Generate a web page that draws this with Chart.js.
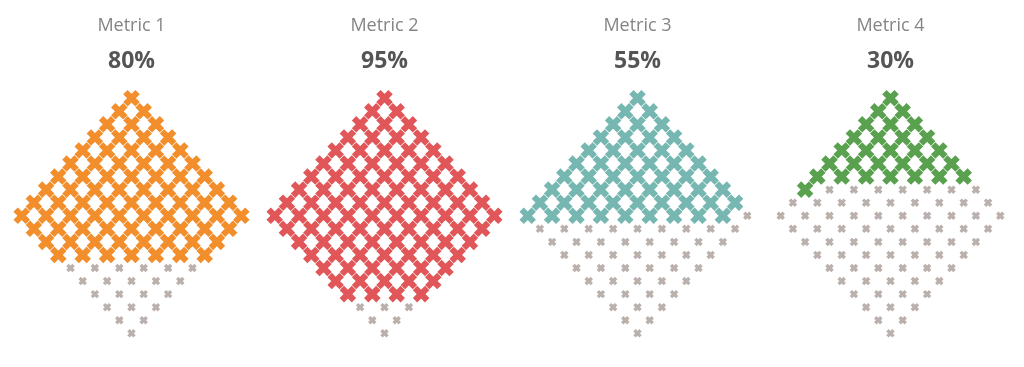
<!DOCTYPE html>
<html>
<head>
<meta charset="utf-8">
<script src="https://cdn.jsdelivr.net/npm/chart.js@4"></script>
<style>
  html, body { margin: 0; padding: 0; background: #ffffff; }
  #wrap { position: relative; width: 1024px; height: 367px; overflow: hidden; }
  .panel { position: absolute; top: 0; width: 253px; height: 367px; }
</style>
</head>
<body>
<div id="wrap"></div>
<script>
// données
const metricNames = ['Metric 1', 'Metric 2', 'Metric 3', 'Metric 4'];
const metricValues = [80, 95, 55, 30];
const metricColors = ['#F28E2B', '#E15759', '#76B7B2', '#59A14F'];
const emptyColor = '#BAB0AC';

// grille en losange : 1,2,...,10,9,...,1 points par rangée (= 100 points)
const rowCounts = [1, 2, 3, 4, 5, 6, 7, 8, 9, 10, 9, 8, 7, 6, 5, 4, 3, 2, 1];

function buildPoints(pct) {
    const filled = [];
    const empty = [];
    let idx = 1;
    rowCounts.forEach(function(n, r) {
        for (let j = 0; j < n; j++) {
            const p = { x: (j - (n - 1) / 2) * 2, y: -r };
            if (idx < pct) filled.push(p); else empty.push(p);
            idx++;
        }
    });
    return { filled: filled, empty: empty };
}

const wrap = document.getElementById('wrap');

metricNames.forEach(function(name, i) {
    const div = document.createElement('div');
    div.className = 'panel';
    div.style.left = (5 + i * 253) + 'px';
    const canvas = document.createElement('canvas');
    div.appendChild(canvas);
    wrap.appendChild(div);

    const pts = buildPoints(metricValues[i]);

    new Chart(canvas.getContext('2d'), {
        type: 'scatter',
        data: {
            datasets: [{
                label: name,
                data: pts.filled,
                pointStyle: 'crossRot',
                pointRadius: 8.6,
                pointBorderWidth: 6.2,
                pointBorderColor: metricColors[i],
                pointBackgroundColor: metricColors[i]
            }, {
                label: 'reste',
                data: pts.empty,
                pointStyle: 'crossRot',
                pointRadius: 4.3,
                pointBorderWidth: 3.4,
                pointBorderColor: emptyColor,
                pointBackgroundColor: emptyColor
            }]
        },
        options: {
            responsive: true,
            maintainAspectRatio: false,
            animation: false,
            events: [],
            layout: { padding: 0, autoPadding: false },
            plugins: {
                legend: { display: false },
                tooltip: { enabled: false },
                title: {
                    display: true,
                    text: name,
                    color: '#858585',
                    font: { family: 'Open Sans', size: 18, weight: 'normal' },
                    padding: { top: 15, bottom: 5 }
                },
                subtitle: {
                    display: true,
                    text: metricValues[i] + '%',
                    color: '#555555',
                    font: { family: 'Open Sans', size: 23, weight: 'bold' },
                    padding: { top: 6, bottom: 5 }
                }
            },
            scales: {
                x: { display: false, min: -10.37, max: 10.37 },
                y: { display: false, min: -20.58, max: 1.38 }
            }
        }
    });
});
</script>
</body>
</html>
